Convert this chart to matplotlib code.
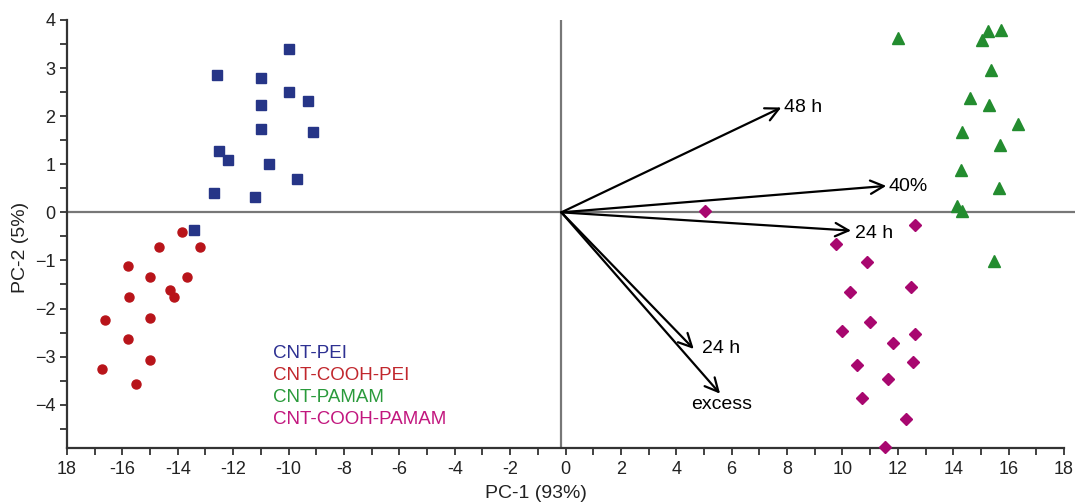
import matplotlib.pyplot as plt
import numpy as np

plt.rcParams["font.family"] = ["Liberation Sans", "DejaVu Sans"]

# scores
pei_x = [-10.0, -12.6, -11.0, -10.0, -9.3, -11.0, -11.0, -9.1, -12.5, -12.2, -10.7, -9.7, -12.7, -11.2, -13.4]
pei_y = [3.40, 2.85, 2.80, 2.50, 2.31, 2.23, 1.74, 1.68, 1.28, 1.08, 1.00, 0.70, 0.40, 0.32, -0.37]

cooh_pei_x = [-13.86, -14.67, -13.18, -15.79, -14.99, -13.66, -14.28, -14.14, -15.77, -16.63, -14.99, -15.78, -14.99, -16.73, -15.51]
cooh_pei_y = [-0.41, -0.73, -0.73, -1.11, -1.35, -1.34, -1.61, -1.77, -1.77, -2.23, -2.19, -2.63, -3.06, -3.25, -3.57]

pamam_x = [12.0, 15.27, 15.74, 15.02, 15.36, 14.62, 15.28, 16.33, 14.30, 15.67, 14.27, 15.64, 14.14, 14.30, 15.46]
pamam_y = [3.62, 3.78, 3.80, 3.59, 2.95, 2.38, 2.23, 1.84, 1.67, 1.41, 0.89, 0.51, 0.14, 0.02, -1.02]

cooh_pamam_x = [5.05, 12.62, 9.76, 10.87, 10.26, 12.49, 11.01, 10.0, 12.62, 11.82, 10.52, 12.55, 11.64, 10.72, 12.31, 11.55]
cooh_pamam_y = [0.03, -0.26, -0.66, -1.04, -1.65, -1.55, -2.29, -2.46, -2.52, -2.71, -3.17, -3.11, -3.47, -3.85, -4.29, -4.87]

# loading vectors
vec_labels = ["48 h", "40%", "24 h", "24 h", "excess"]
vec_x = [7.79, 11.58, 10.31, 4.63, 5.58]
vec_y = [2.18, 0.55, -0.38, -2.84, -3.77]

x_ticks = list(range(-18, 19, 2))
x_tick_labels = ["18"] + [str(t) for t in range(-16, 19, 2)]
y_ticks = list(range(-4, 5))

fig = plt.figure(figsize=(10.75, 5.03), dpi=100)
ax = fig.add_axes([0.0623, 0.1093, 0.9275, 0.851])

ax.plot([-18, 18.35], [0, 0], color="#777777", lw=1.6, clip_on=False, zorder=1)
ax.axvline(-0.15, color="#777777", lw=1.6, zorder=1)

ax.plot(pei_x, pei_y, "s", color="#263587", ms=7.3, ls="none", zorder=3)
ax.plot(cooh_pei_x, cooh_pei_y, "o", color="#B8141A", ms=6.5, ls="none", zorder=3)
ax.plot(pamam_x, pamam_y, "^", color="#238C2F", ms=9.3, ls="none", zorder=3)
ax.plot(cooh_pamam_x, cooh_pamam_y, "D", color="#A8076F", ms=5.8, ls="none", zorder=3, clip_on=False)

for lab, vx, vy in zip(vec_labels, vec_x, vec_y):
    ax.annotate("", xy=(vx, vy), xytext=(-0.15, 0),
                arrowprops=dict(arrowstyle="->", lw=1.6, color="black",
                                mutation_scale=24, shrinkA=0, shrinkB=0), zorder=4)

ax.text(vec_x[0] + 0.1, vec_y[0], vec_labels[0], fontsize=14, va="center")
ax.text(vec_x[1] + 0.1, vec_y[1] - 0.02, vec_labels[1], fontsize=14, va="center")
ax.text(vec_x[2] + 0.15, vec_y[2] - 0.06, vec_labels[2], fontsize=14, va="center")
ax.text(vec_x[3] + 0.3, vec_y[3], vec_labels[3], fontsize=14, va="center")
ax.text(vec_x[4] + 0.05, vec_y[4] - 0.22, vec_labels[4], fontsize=14, va="center", ha="center")

legend_names = ["CNT-PEI", "CNT-COOH-PEI", "CNT-PAMAM", "CNT-COOH-PAMAM"]
legend_colors = ["#2E3192", "#C1272D", "#2A9A3B", "#C2177E"]
for i, (name, col) in enumerate(zip(legend_names, legend_colors)):
    ax.text(-10.57, -2.94 - 0.455 * i, name, color=col, fontsize=13.5, va="center")

ax.set_xlim(-18, 18)
ax.set_ylim(-4.9, 4)
ax.set_xticks(x_ticks, labels=x_tick_labels)
ax.set_xticks(np.arange(-18, 19, 1), minor=True)
ax.set_yticks(y_ticks, labels=[str(t).replace("-", "\u2212") for t in y_ticks])
ax.set_yticks(np.arange(-4.5, 4.01, 0.5), minor=True)
ax.tick_params(which="both", direction="out", length=5, width=1.3, color="#333333",
               labelsize=13, labelcolor="#222222")
ax.tick_params(axis="x", pad=4)

for side in ["top", "right"]:
    ax.spines[side].set_visible(False)
for side in ["left", "bottom"]:
    ax.spines[side].set_color("#333333")
    ax.spines[side].set_linewidth(1.6)

fig.text(536 / 1075, 1 - 493 / 503, "PC-1 (93%)", fontsize=14, ha="center", va="center", color="#222222")
fig.text(21 / 1075, 1 - 247 / 503, "PC-2 (5%)", fontsize=14, ha="center", va="center",
         rotation=90, color="#222222")

fig.savefig("out.png", dpi=100)
